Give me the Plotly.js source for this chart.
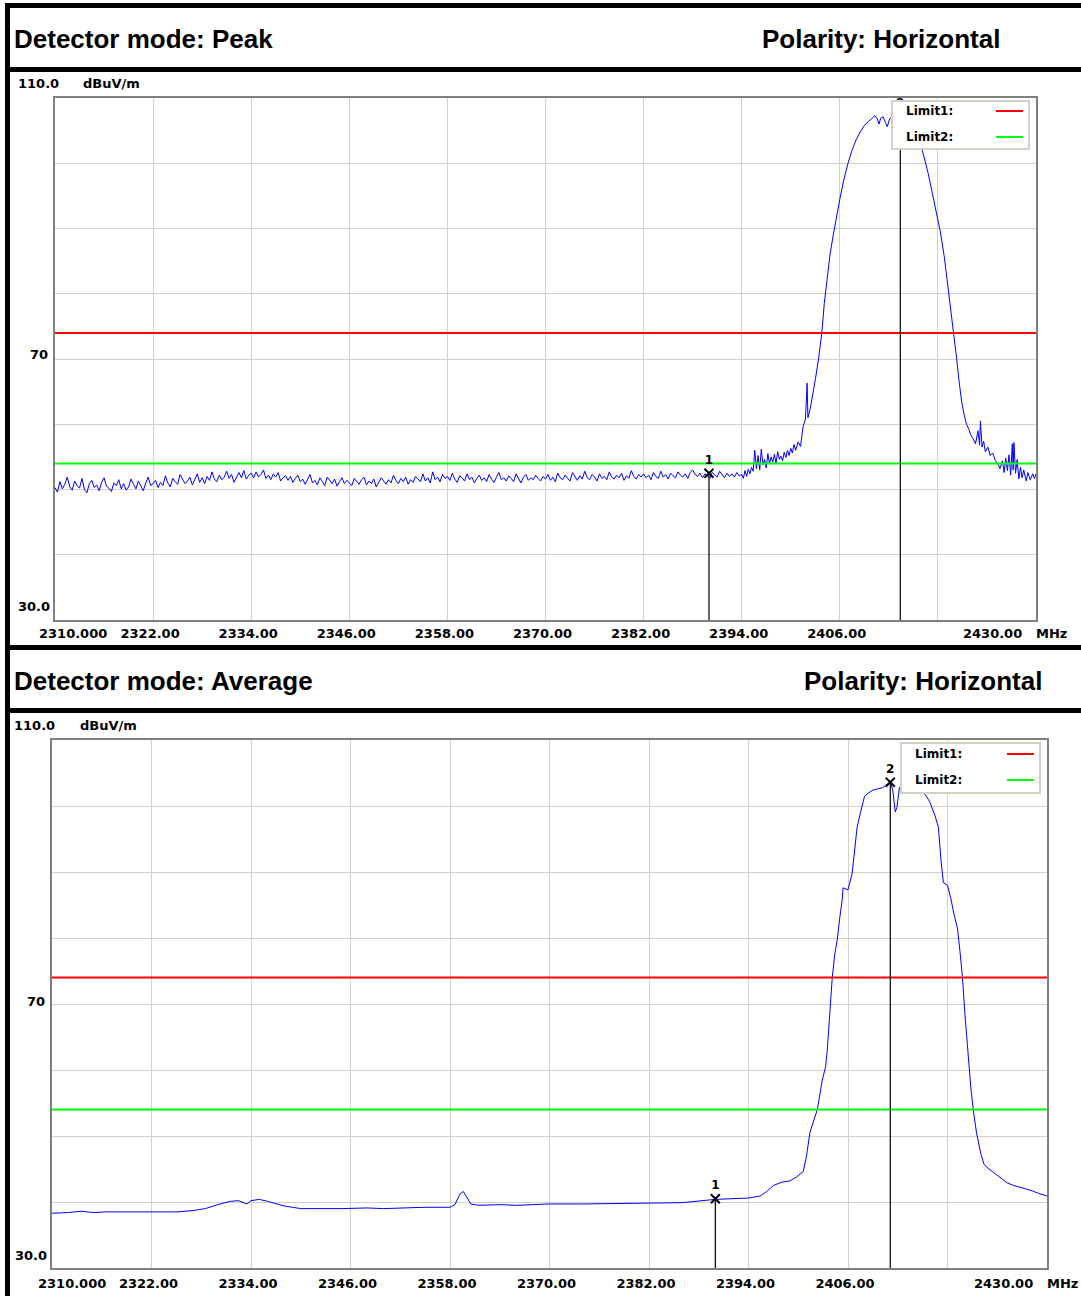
<!DOCTYPE html>
<html><head><meta charset="utf-8">
<script src="https://cdn.plot.ly/plotly-3.0.1.min.js"></script>
<style>html,body{margin:0;padding:0;background:#fff}#chart{width:1081px;height:1296px}</style>
</head><body><div id="chart"></div>
<script>
// ---------- DATA ----------
const xTickVals = [2322, 2334, 2346, 2358, 2370, 2382, 2394, 2406, 2418];
const xTickText = ["2322.00", "2334.00", "2346.00", "2358.00", "2370.00", "2382.00", "2394.00", "2406.00", ""];
const xStartLabel = "2310.000";
const xEndLabel = "2430.00";
const xUnit = "MHz";
const yTopLabel = "110.0";
const yMidLabel = "70";
const yBottomLabel = "30.0";
const yUnit = "dBuV/m";
const freqRange = [2310, 2430];
const levelRange = [30, 110];

const limit1 = 74;   // red
const limit2 = 54;   // green
const legendNames = ["Limit1:", "Limit2:"];

const header1Left = "Detector mode: Peak";
const header1Right = "Polarity: Horizontal";
const header2Left = "Detector mode: Average";
const header2Right = "Polarity: Horizontal";

// Peak detector: noise floor 2310..2394 MHz, 0.3 MHz steps
const peakNoiseStart = 2310;
const peakNoiseStep = 0.3;
const peakNoise = [
  50.3, 49.6, 51.2, 50.1, 50.8, 51.9, 50.4, 49.9, 51.3, 50.6, 50.2, 51.7, 50.0, 49.5, 50.9, 51.4, 50.3, 50.7, 49.8, 51.1, 51.8, 50.5, 50.2, 49.7, 51.0, 50.6, 51.5, 50.1, 50.9, 49.9, 50.4, 51.6, 50.8, 50.1, 51.3, 50.5, 49.8, 51.0, 51.9, 50.6,
  50.9, 51.4, 50.3, 51.1, 50.6, 52.1, 51.0, 50.4, 51.7, 51.2, 50.8, 52.3, 51.5, 50.9, 51.3, 51.9, 50.7, 51.6, 52.4, 51.1, 51.8, 50.9, 52.0, 51.4, 52.7, 51.6, 51.2, 52.2, 51.5, 51.9, 52.8, 51.7, 52.3, 51.1, 52.0, 52.6, 51.8, 52.9, 51.6, 52.2,
  52.5, 51.8, 52.7, 51.9, 52.3, 53.0, 51.7, 52.2, 51.5, 52.4, 51.9, 52.6, 51.3, 51.8, 52.1, 51.4, 52.0, 51.1, 51.7, 52.2, 51.2, 51.6, 50.8, 51.5, 52.3, 51.0, 51.4, 50.7, 51.8, 51.2, 50.6, 51.9, 51.3, 50.9, 51.6, 50.5, 51.2, 51.8, 50.9, 51.4,
  51.0, 50.6, 51.7, 51.2, 50.8, 51.5, 51.9, 50.7, 51.3, 50.9, 51.6, 50.4, 51.1, 51.8, 51.3, 50.8, 51.5, 51.0, 52.2, 51.4, 50.9, 51.7, 51.2, 51.9, 50.8, 51.5, 51.1, 52.0, 51.6, 51.2, 52.4, 51.3, 51.8, 51.0, 52.7, 51.5, 51.9, 51.2, 52.3, 51.7,
  52.0, 51.4, 52.5, 51.6, 51.1, 52.1, 51.8, 51.3, 52.4, 51.5, 51.9, 51.0, 51.7, 52.2, 51.4, 51.8, 51.2, 52.3, 51.6, 51.1, 51.9, 52.6, 51.5, 51.8, 51.3, 52.1, 51.7, 51.2, 52.4, 51.6, 51.0, 51.9, 52.3, 51.4, 51.8, 51.5, 52.2, 51.7, 51.3, 52.0,
  51.6, 52.3, 51.4, 51.9, 51.2, 52.5, 51.8, 51.5, 52.2, 51.7, 51.3, 52.6, 51.9, 51.4, 52.1, 51.6, 52.8, 51.8, 51.5, 52.3, 51.9, 51.3, 52.4, 51.7, 52.0, 51.5, 52.7, 51.9, 51.6, 52.2, 51.8, 52.5, 51.4, 52.1, 51.7, 52.9, 52.0, 51.6, 52.3, 51.9,
  52.4, 51.8, 52.2, 51.5, 52.6, 52.0, 51.7, 52.8, 51.9, 52.3, 51.6, 52.5, 52.1, 51.8, 52.7, 52.2, 51.9, 52.4, 51.7, 52.6, 53.0, 52.3, 52.0, 52.5, 51.8, 52.4, 52.1, 51.7, 52.6, 52.2, 51.9, 52.8, 52.3, 51.8, 52.5, 52.0, 52.4, 51.9, 52.6, 52.1,
  52.3
];

// Peak detector: signal region 2394..2430 MHz
const peakFreq = [
  2394.0, 2394.2, 2394.4, 2394.6, 2394.8, 2395.0, 2395.2, 2395.4, 2395.6, 2395.8, 2396.0, 2396.2, 2396.4, 2396.6, 2396.8, 2397.0, 2397.2, 2397.4, 2397.6, 2397.8,
  2398.0, 2398.2, 2398.4, 2398.6, 2398.8, 2399.0, 2399.2, 2399.4, 2399.6, 2399.8, 2400.0, 2400.2, 2400.4, 2400.6, 2400.9, 2401.2, 2401.5, 2401.8, 2402.0, 2402.1,
  2402.4, 2402.7, 2403.0,
  2403.4, 2403.8, 2404.1, 2404.4, 2404.8, 2405.2, 2405.6, 2406.0, 2406.5, 2407.0, 2407.5, 2408.0, 2408.5, 2409.0, 2409.5, 2410.0, 2410.3, 2410.6, 2410.8, 2411.0, 2411.3, 2411.6, 2411.8, 2412.1, 2412.5, 2412.9, 2413.4,
  2413.8, 2414.3, 2414.8, 2415.3, 2415.8, 2416.3, 2416.8, 2417.3, 2417.8, 2418.3, 2418.8, 2419.2, 2419.6, 2420.0, 2420.3, 2420.6, 2420.9, 2421.2, 2421.5, 2421.8, 2422.0, 2422.3, 2422.6, 2422.9, 2423.1, 2423.2,
  2423.4, 2423.6, 2423.8, 2424.1, 2424.4, 2424.7, 2425.0, 2425.3, 2425.6, 2425.9, 2426.1, 2426.3, 2426.5, 2426.7, 2426.9, 2427.1, 2427.2, 2427.3, 2427.5, 2427.7, 2427.9, 2428.1, 2428.3, 2428.5, 2428.8, 2429.0,
  2429.3, 2429.6, 2429.8, 2430.0
];
const peakLevel = [
  52.3, 51.7, 52.9, 52.0, 53.1, 52.4, 53.4, 52.8, 56.0, 53.2, 55.2, 53.0, 56.2, 53.8, 54.6, 53.3, 55.5, 53.9, 55.0, 54.2,
  55.4, 54.0, 55.8, 54.6, 55.1, 54.4, 55.7, 54.9, 56.0, 55.2, 56.3, 55.6, 56.9, 56.0, 57.3, 56.6, 59.6, 60.8, 66.3, 61.0,
  62.5, 64.5, 66.8,
  70.0, 74.0, 78.5, 82.0, 86.0, 89.0, 92.0, 94.5, 97.5, 100.0, 102.0, 103.6, 104.8, 105.8, 106.4, 107.0, 107.3, 106.8, 106.0, 106.9, 107.1, 106.2, 105.6, 106.8, 107.2, 107.3, 107.1,
  106.6, 106.0, 105.2, 104.3, 103.2, 101.0, 98.5, 95.5, 92.5, 89.5, 85.5, 81.5, 77.5, 73.5, 70.0, 66.5, 63.5, 61.5, 60.0, 59.2, 58.4, 57.8, 57.0, 59.0, 56.8, 60.5,
  56.5, 57.4, 55.8, 56.5, 55.2, 55.6, 54.5, 54.0, 53.2, 54.4, 52.6, 54.8, 52.9, 55.3, 52.2, 57.0, 53.0, 57.2, 52.5, 54.6, 51.6, 53.4, 51.8, 53.0, 51.3, 52.6,
  51.5, 52.4, 51.7, 52.4
];

// Average detector
const avgFreq = [
  2310.0, 2312.0, 2313.5, 2315.0, 2316.5, 2318.0, 2322.0, 2325.0, 2327.0, 2328.5, 2330.0, 2331.5, 2332.5, 2333.0, 2333.5, 2334.0, 2335.0, 2336.0, 2337.0, 2338.0, 2339.0, 2340.0,
  2345.0, 2348.0, 2350.0, 2352.0, 2355.0, 2358.0, 2358.6, 2359.2, 2359.6, 2360.0, 2360.5, 2361.5, 2364.0, 2366.0, 2370.0, 2374.0, 2378.0, 2382.0, 2386.0, 2390.0, 2394.0,
  2395.4, 2396.2, 2397.0, 2398.0, 2399.0, 2399.8, 2400.6, 2401.0, 2401.4, 2401.8, 2402.3, 2402.9, 2403.3, 2403.5, 2403.8, 2404.1, 2404.4, 2404.7, 2405.0, 2405.3, 2405.4,
  2406.0, 2406.5, 2406.9, 2407.1, 2407.5, 2408.0, 2408.5, 2409.0, 2409.6, 2410.2, 2410.7, 2411.1, 2411.4, 2411.7, 2411.9, 2412.2, 2412.6, 2413.2, 2413.8, 2414.4, 2415.0,
  2415.5, 2415.9, 2416.5, 2416.9, 2417.2, 2417.5, 2418.0, 2418.4, 2418.8, 2419.2, 2419.5, 2419.8, 2420.1, 2420.5, 2420.8, 2421.1, 2421.5, 2422.0, 2422.4, 2423.0, 2423.7,
  2424.4, 2425.2, 2426.0, 2426.8, 2427.5, 2428.2, 2429.0, 2430.0
];
const avgLevel = [
  38.3, 38.4, 38.6, 38.4, 38.5, 38.5, 38.5, 38.5, 38.7, 39.0, 39.6, 40.1, 40.2, 39.9, 39.7, 40.2, 40.4, 40.1, 39.7, 39.4, 39.2, 39.0,
  39.0, 39.1, 39.0, 39.1, 39.2, 39.2, 39.6, 41.2, 41.6, 40.8, 39.7, 39.5, 39.6, 39.5, 39.7, 39.7, 39.8, 39.8, 39.9, 40.4, 40.6,
  40.9, 41.6, 42.5, 43.0, 43.2, 43.8, 44.6, 47.0, 50.5, 52.2, 54.0, 58.5, 60.5, 63.0, 68.6, 74.0, 77.5, 79.7, 83.0, 85.8, 87.6,
  87.3, 89.8, 94.8, 96.8, 99.0, 101.5, 102.0, 102.4, 102.6, 102.8, 103.3, 103.6, 102.4, 99.1, 99.8, 102.8, 103.2, 103.1, 102.9, 102.7, 102.2,
  101.4, 100.5, 98.5, 96.8, 92.0, 88.4, 88.0, 86.0, 83.5, 81.5, 78.0, 74.1, 68.5, 62.0, 57.5, 54.0, 50.5, 47.4, 45.7, 45.0, 44.3,
  43.6, 42.9, 42.5, 42.2, 42.0, 41.7, 41.3, 40.9
];

// Markers
const markerLabels = ["1", "2"];
const peakMarkerFreq = [2390.0, 2413.4];
const peakMarkerLevel = [52.5, 107.2];
const avgMarkerFreq = [2390.0, 2411.1];
const avgMarkerLevel = [40.5, 103.6];

// ---------- STYLE / LAYOUT HELPERS ----------
const W = 1081, H = 1296;
const px = v => v / W;
const py = v => 1 - v / H;
const BLUE = "#0000ff", RED = "#ff0000", GREEN = "#00ff00";
const GRID = "#d4d0c8", FRAME = "#808080";
const smallFont = {family: "DejaVu Sans", size: 13, color: "#000", weight: "bold"};
const legFont = {family: "DejaVu Sans", size: 12, color: "#000", weight: "bold"};
const headFont = {family: "Liberation Sans, Arial", size: 26, color: "#000", weight: "bold"};

function markerLines(freqs, levels) {
  const xs = [], ys = [];
  freqs.forEach((f, i) => { xs.push(f, f, null); ys.push(levelRange[0], levels[i], null); });
  return {xs, ys};
}

function panelTraces(xa, ya, mainTraces, mFreq, mLevel) {
  const out = mainTraces.map(t => Object.assign({xaxis: xa, yaxis: ya, mode: "lines", line: {color: BLUE, width: 1}, hoverinfo: "skip", showlegend: false}, t));
  out.push({x: freqRange, y: [limit1, limit1], xaxis: xa, yaxis: ya, mode: "lines", line: {color: RED, width: 2}, hoverinfo: "skip", showlegend: false});
  out.push({x: freqRange, y: [limit2, limit2], xaxis: xa, yaxis: ya, mode: "lines", line: {color: GREEN, width: 2}, hoverinfo: "skip", showlegend: false});
  const ml = markerLines(mFreq, mLevel);
  out.push({x: ml.xs, y: ml.ys, xaxis: xa, yaxis: ya, mode: "lines", line: {color: "#000", width: 1.2}, hoverinfo: "skip", showlegend: false, connectgaps: false});
  out.push({x: mFreq, y: mLevel, xaxis: xa, yaxis: ya, mode: "markers+text", text: markerLabels, textposition: "top center",
    textfont: {family: "DejaVu Sans", size: 12, color: "#000", weight: "bold"},
    marker: {symbol: "x-thin-open", size: 9, color: "#000", line: {color: "#000", width: 2}}, cliponaxis: false, hoverinfo: "skip", showlegend: false});
  return out;
}

const traces = []
  .concat(panelTraces("x", "y", [
    {y: peakNoise, x0: peakNoiseStart, dx: peakNoiseStep},
    {x: peakFreq, y: peakLevel}
  ], peakMarkerFreq, peakMarkerLevel))
  .concat(panelTraces("x2", "y2", [
    {x: avgFreq, y: avgLevel}
  ], avgMarkerFreq, avgMarkerLevel));

function xaxisDef(l, r, anchor, standoff) {
  return {domain: [px(l), px(r)], range: freqRange, anchor: anchor, tickvals: xTickVals, ticktext: xTickText,
    showgrid: true, gridcolor: GRID, gridwidth: 1, showline: true, linecolor: FRAME, linewidth: 2, mirror: true,
    zeroline: false, ticks: "", tickfont: smallFont, ticklabelshift: -3, ticklabelstandoff: standoff, fixedrange: true};
}
function yaxisDef(top, bottom, anchor) {
  return {domain: [py(bottom), py(top)], range: levelRange, anchor: anchor, tick0: 30, dtick: 10, showticklabels: false,
    showgrid: true, gridcolor: GRID, gridwidth: 1, showline: true, linecolor: FRAME, linewidth: 2, mirror: true,
    zeroline: false, ticks: "", fixedrange: true};
}

function ann(text, x, y, xanchor, font) {
  return {text: text, x: px(x), y: py(y), xref: "paper", yref: "paper", xanchor: xanchor, yanchor: "middle", showarrow: false, font: font || smallFont};
}
function rect(x0, y0, x1, y1, fill, line, lw) {
  return {type: "rect", xref: "paper", yref: "paper", x0: px(x0), x1: px(x1), y0: py(y0), y1: py(y1), fillcolor: fill,
    line: {color: line || fill, width: lw || 0}, layer: "above"};
}
function hline(x0, x1, y, color) {
  return {type: "line", xref: "paper", yref: "paper", x0: px(x0), x1: px(x1), y0: py(y), y1: py(y), line: {color: color, width: 2}, layer: "above"};
}

const shapes = [
  rect(5, 3, 10, 1296, "#000"),
  rect(5, 3, 1081, 8, "#000"),
  rect(5, 67, 1081, 72, "#000"),
  rect(5, 645, 1081, 650, "#000"),
  rect(5, 708, 1081, 713, "#000"),
  // legends
  rect(892, 101, 1029, 149, "#ffffff", GRID, 2),
  hline(996, 1023, 111, RED),
  hline(996, 1023, 137, GREEN),
  rect(901, 743, 1040, 793, "#ffffff", GRID, 2),
  hline(1007, 1034, 754, RED),
  hline(1007, 1034, 780, GREEN)
];

const annotations = [
  ann(header1Left, 12, 39, "left", headFont),
  ann(header1Right, 760, 39, "left", headFont),
  ann(header2Left, 12, 681, "left", headFont),
  ann(header2Right, 802, 681, "left", headFont),
  // top panel axis texts
  ann(yTopLabel, 16, 83, "left"),
  ann(yUnit, 81, 83, "left"),
  ann(yMidLabel, 50, 355, "right"),
  ann(yBottomLabel, 16, 606, "left"),
  ann(xStartLabel, 73, 633, "center"),
  ann(xEndLabel, 992, 633, "center"),
  ann(xUnit, 1034, 633, "left"),
  ann(legendNames[0], 904, 111, "left", legFont),
  ann(legendNames[1], 904, 137, "left", legFont),
  // bottom panel axis texts
  ann(yTopLabel, 12, 725, "left"),
  ann(yUnit, 78, 725, "left"),
  ann(yMidLabel, 47, 1001, "right"),
  ann(yBottomLabel, 13, 1255, "left"),
  ann(xStartLabel, 72, 1283, "center"),
  ann(xEndLabel, 1003, 1283, "center"),
  ann(xUnit, 1045, 1283, "left"),
  ann(legendNames[0], 913, 754, "left", legFont),
  ann(legendNames[1], 913, 780, "left", legFont)
];

const layout = {
  width: W, height: H, margin: {l: 0, r: 0, t: 0, b: 0, pad: 0},
  paper_bgcolor: "#ffffff", plot_bgcolor: "#ffffff", showlegend: false,
  xaxis: xaxisDef(55, 1036, "y", 0),
  yaxis: yaxisDef(98, 620, "x"),
  xaxis2: xaxisDef(52, 1047, "y2", 2),
  yaxis2: yaxisDef(740, 1268, "x2"),
  shapes: shapes,
  annotations: annotations
};

Plotly.newPlot("chart", traces, layout, {displayModeBar: false, staticPlot: true});
</script></body></html>
